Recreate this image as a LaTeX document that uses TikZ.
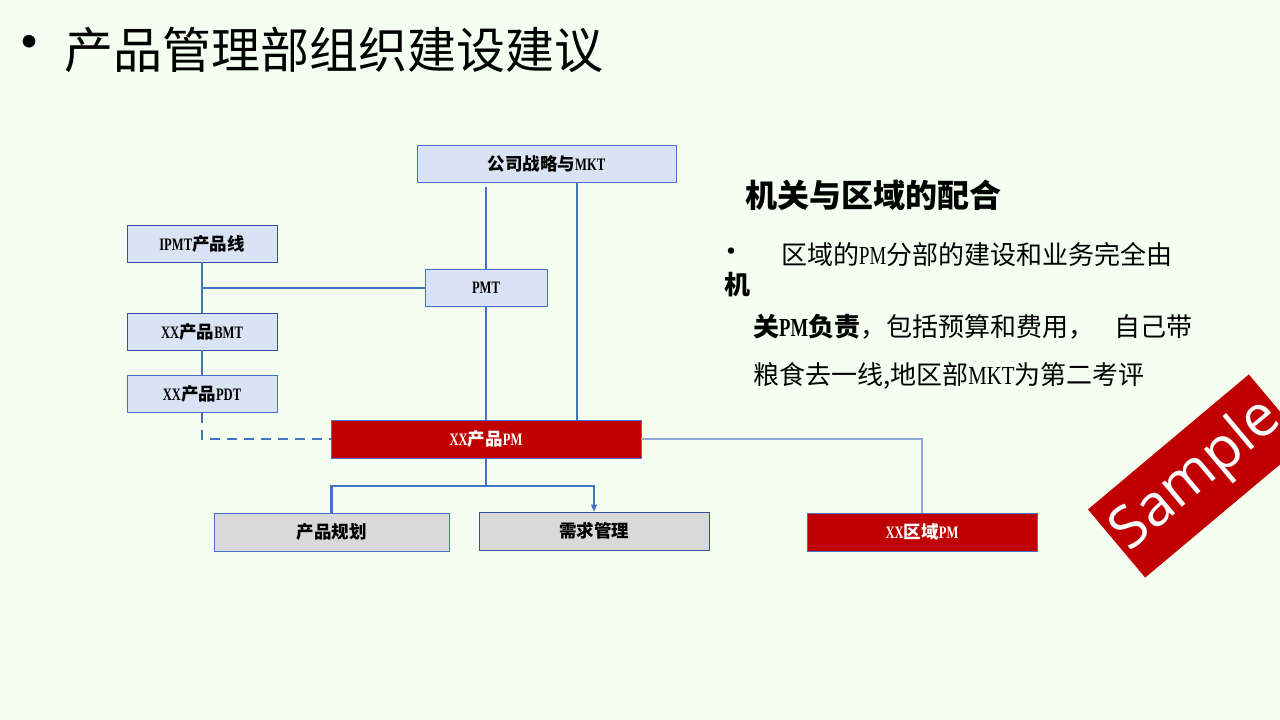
\documentclass[tikz,border=0pt]{standalone}
\usepackage{fontspec}
\setmainfont{Noto Sans CJK SC}
\newfontfamily\nlat[FakeStretch=0.72]{Liberation Serif}
\newfontfamily\nlatw[FakeStretch=0.8]{Liberation Serif}
\newfontfamily\samplefont{Open Sans}
\newcommand\lt[1]{{\nlat #1}}
\newcommand\ltw[1]{{\nlatw #1}}
\newcommand\bx[1]{\raisebox{-2.5pt}{#1}}
\usetikzlibrary{arrows.meta}
\definecolor{bgc}{HTML}{F4FFF2}
\definecolor{boxblue}{HTML}{DAE3F3}
\definecolor{boxline}{HTML}{2F5597}
\definecolor{connc}{HTML}{4472C4}
\definecolor{lightc}{HTML}{8FAADC}
\definecolor{redc}{HTML}{C00000}
\definecolor{grayc}{HTML}{D9D9D9}
\begin{document}
\begin{tikzpicture}[x=1pt,y=-1pt,
  box/.style={draw=boxline, line width=0.8pt, fill=boxblue, inner sep=0pt,
    minimum height=37pt, font=\bfseries\fontsize{17.5}{17.5}\selectfont},
  redbox/.style={box, fill=redc, text=white},
  graybox/.style={box, fill=grayc},
  conn/.style={draw=connc, line width=2.7pt},
  dconn/.style={conn, dash pattern=on 10pt off 7pt},
  thinconn/.style={draw=connc, line width=1.1pt},
  lightconn/.style={draw=lightc, line width=1.3pt},
  txt/.style={anchor=west, inner sep=0pt, font=\fontsize{26}{26}\selectfont}
]
\useasboundingbox (0,0) rectangle (1280,720);
\clip (0,0) rectangle (1280,720);
\fill[bgc] (0,0) rectangle (1280,720);

% title
\node[inner sep=0pt, font=\fontsize{60}{60}\selectfont] (tbul) at (29,50) {•};
\node[anchor=west, inner sep=0pt, font=\fontsize{49}{49}\selectfont] (title) at (64,50) {产品管理部组织建设建议};

% boxes
\node[box, minimum width=259pt, draw=connc] (corp) at (546.5,163.5) {\bx{公司战略与\lt{MKT}}};
\node[box, minimum width=150pt] (ipmt) at (202,243.5) {\bx{\lt{IPMT}产品线}};
\node[box, minimum width=122pt, draw=connc] (pmt) at (486,288) {\bx{\lt{PMT}}};
\node[box, minimum width=150pt] (bmt) at (202,331.5) {\bx{\lt{XX}产品\lt{BMT}}};
\node[box, minimum width=150pt, draw=connc] (pdt) at (202,394) {\bx{\lt{XX}产品\lt{PDT}}};
\node[redbox, minimum width=310pt, minimum height=38pt, draw=connc] (pm) at (486,439) {\bx{\lt{XX}产品\lt{PM}}};
\node[graybox, minimum width=235pt, minimum height=38pt, draw=connc] (plan) at (331.5,532) {\bx{产品规划}};
\node[graybox, minimum width=230pt, minimum height=38pt] (req) at (594,531) {\bx{需求管理}};
\node[redbox, minimum width=230pt, minimum height=38pt, draw=connc] (reg) at (922,532) {\bx{\lt{XX}区域\lt{PM}}};

% connectors
\coordinate (c577) at (577,300);
\coordinate (jn) at (486,486);
\draw[conn] ([yshift=-5pt]corp.south -| pmt.north) -- (pmt.north);
\draw[conn] (pmt.south) -- (pm.north);
\draw[conn] (corp.south -| c577) -- (pm.north -| c577);
\draw[conn] (ipmt.south) -- (bmt.north);
\draw[conn] (ipmt.south |- pmt.west) -- (pmt.west);
\draw[conn] (bmt.south) -- (pdt.north);
\draw[dconn] (pdt.south) |- (pm.west);
\draw[conn] (pm.south) -- (jn) -| (plan.north);
\draw[thinconn, -{Triangle[length=7pt,width=6pt]}] (jn) -| (req.north);
\draw[lightconn] (pm.east) -| (reg.north);

% right text
\node[anchor=west, inner sep=0pt, font=\bfseries\fontsize{32}{32}\selectfont] (head) at (745,195) {机关与区域的配合};
\node[inner sep=0pt, font=\fontsize{30}{30}\selectfont] (bul) at (731,255) {•};
\node[txt] (l1) at (781,255) {区域的\lt{PM}分部的建设和业务完全由};
\node[txt] (l2) at (724,285) {\bfseries 机};
\node[txt] (l3) at (753,327) {{\bfseries 关\lt{PM}负责}，包括预算和费用，\hspace{20pt}自己带};
\node[txt] (l4) at (753,376) {粮食去一线,地区部\ltw{MKT}为第二考评};

% sample banner
\node[rotate=40, fill=redc, minimum width=210pt, minimum height=89pt, inner sep=0pt,
  text=white, font=\samplefont\fontsize{58}{58}\selectfont] (sample) at (1197,476) {Sample};
\end{tikzpicture}
\end{document}
